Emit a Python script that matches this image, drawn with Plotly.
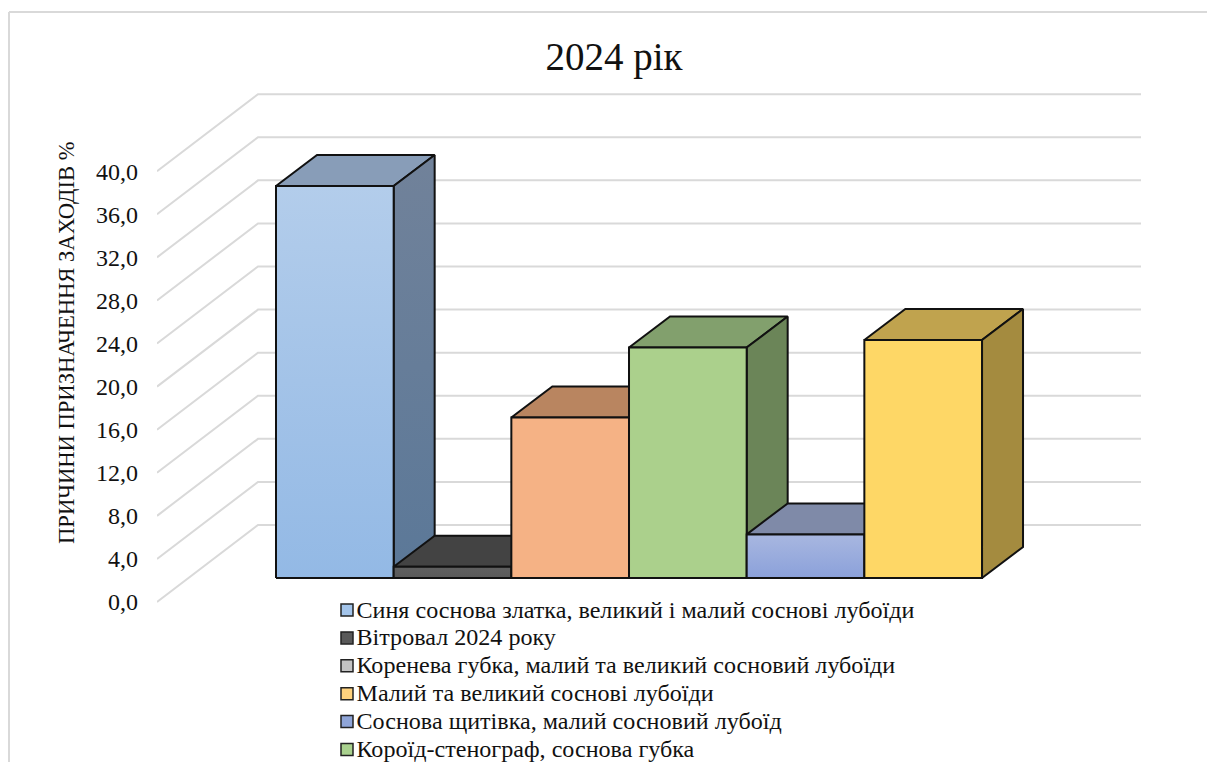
import plotly.graph_objects as go

# ---------- data ----------
categories = [
    "Синя соснова златка, великий і малий соснові лубоїди",
    "Вітровал 2024 року",
    "Коренева губка, малий та великий сосновий лубоїди",
    "Малий та великий соснові лубоїди",
    "Соснова щитівка, малий сосновий лубоїд",
    "Короїд-стенограф, соснова губка",
]
values = [36.4, 1.05, 14.9, 21.4, 4.05, 22.1]
tick_values = [0, 4, 8, 12, 16, 20, 24, 28, 32, 36, 40]
tick_labels = ["0,0", "4,0", "8,0", "12,0", "16,0", "20,0", "24,0", "28,0", "32,0", "36,0", "40,0"]
title_text = "2024 рік"
axis_title = "ПРИЧИНИ ПРИЗНАЧЕННЯ ЗАХОДІВ %"

# ---------- styles ----------
front_top = ["#b3cdeb", "#5f5f5f", "#f5b285", "#abd08c", "#a8b7e0", "#fed766"]
front_bottom = ["#93b9e5", "#5a5a5a", "#f5b285", "#abd08c", "#8ba1da", "#fed766"]
top_face = ["#889db8", "#434343", "#b98560", "#82a06d", "#7f8aa8", "#c0a34e"]
side_top = ["#71829a", "#3c3c3c", "#a0724f", "#6b8558", "#6b7896", "#a48b3f"]
side_bottom = ["#5b7898", "#3c3c3c", "#a0724f", "#6b8558", "#5f6f96", "#a48b3f"]
legend_colors = ["#a3c4ea", "#595959", "#c4c4c4", "#ffd27d", "#8fa5d8", "#a9d18e"]
FONT = "Liberation Serif"
INK = "#111111"
GRID = "#d9d9d9"

# ---------- layout geometry (pixels of the 1207x762 page) ----------
W, H = 1207, 762
PLOT_L = 157
Y0_PX, PX_PER_VAL = 602, 10.77
BAR_L_PX, BAR_W_PX = 276, 117.67
BAR_BASE_PX = 578
WALL_DX, WALL_DY, WALL_W = 101, 77, 883
BAR_DX, BAR_DY = 41, 31


def xu(px):
    return (px - BAR_L_PX) / BAR_W_PX


def yu(py):
    return (Y0_PX - py) / PX_PER_VAL


def xp(px):
    return (px - PLOT_L) / (W - PLOT_L)


def yp(py):
    return 1 - py / H


fig = go.Figure()

# gridlines: front edge -> back wall -> along the wall
dx_wall = WALL_DX / BAR_W_PX
dy_wall = WALL_DY / PX_PER_VAL
wall_left = xu(PLOT_L)
for v in tick_values:
    fig.add_trace(go.Scatter(
        x=[wall_left, wall_left + dx_wall, wall_left + dx_wall + WALL_W / BAR_W_PX],
        y=[v, v + dy_wall, v + dy_wall],
        mode="lines", line=dict(color=GRID, width=2),
        showlegend=False, hoverinfo="skip", cliponaxis=False))

# 3-D columns: top, side, front of each one
base = yu(BAR_BASE_PX)
dx = BAR_DX / BAR_W_PX
dy = BAR_DY / PX_PER_VAL
edge = dict(color=INK, width=2)


def face(xs, ys, name, color=None, gradient=None):
    kw = dict(fillgradient=dict(type="vertical", colorscale=gradient)) if gradient else dict(fillcolor=color)
    fig.add_trace(go.Scatter(x=xs + xs[:1], y=ys + ys[:1], mode="lines", fill="toself",
                             line=edge, name=name, showlegend=False, hoverinfo="name",
                             cliponaxis=False, **kw))


for i, (cat, val) in enumerate(zip(categories, values)):
    top = base + val
    face([i, i + 1, i + 1 + dx, i + dx], [top, top, top + dy, top + dy], cat, color=top_face[i])
    face([i + 1, i + 1 + dx, i + 1 + dx, i + 1], [base, base + dy, top + dy, top], cat,
         gradient=[[0, side_bottom[i]], [1, side_top[i]]])
    face([i, i + 1, i + 1, i], [base, base, top, top], cat,
         gradient=[[0, front_bottom[i]], [1, front_top[i]]])

# legend, one row per category: swatches and labels
LEG_X, LEG_TEXT_X, LEG_Y0, LEG_TEXT_DY, LEG_STEP = 347, 356.5, 610, 1.5, 27.9
rows = range(len(categories))
fig.add_trace(go.Scatter(
    x=[xu(LEG_X)] * len(categories),
    y=[yu(LEG_Y0 + k * LEG_STEP) for k in rows],
    mode="markers",
    marker=dict(symbol="square", size=12, color=legend_colors, line=dict(color="#222222", width=1.5)),
    showlegend=False, hoverinfo="skip", cliponaxis=False))
fig.add_trace(go.Scatter(
    x=[xu(LEG_TEXT_X)] * len(categories),
    y=[yu(LEG_Y0 + LEG_TEXT_DY + k * LEG_STEP) for k in rows],
    mode="text", text=categories, textposition="middle right",
    textfont=dict(family=FONT, size=24.1, color=INK),
    showlegend=False, hoverinfo="skip", cliponaxis=False))

fig.update_layout(
    width=W, height=H,
    margin=dict(l=PLOT_L, r=0, t=0, b=0),
    paper_bgcolor="white", plot_bgcolor="white",
    showlegend=False,
    font=dict(family=FONT, color=INK),
    title=dict(text=title_text, x=614 / W, xref="container", xanchor="center",
               y=1 - 56 / H, yref="container", yanchor="middle",
               font=dict(family=FONT, size=39, color=INK)),
    xaxis=dict(visible=False, range=[xu(PLOT_L), xu(W)], fixedrange=True),
    yaxis=dict(range=[yu(H), yu(0)], tickmode="array", tickvals=tick_values, ticktext=tick_labels,
               tickfont=dict(family=FONT, size=24, color=INK), ticks="", showgrid=False,
               zeroline=False, showline=False, ticklabelstandoff=18, fixedrange=True),
    annotations=[dict(text=axis_title, textangle=-90, xref="paper", yref="paper",
                      x=xp(66), y=yp(343), showarrow=False, xanchor="center", yanchor="middle",
                      font=dict(family=FONT, size=22.6, color=INK))],
    shapes=[
        dict(type="line", xref="paper", yref="paper", x0=xp(9), x1=xp(W), y0=yp(12), y1=yp(12),
             line=dict(color=GRID, width=2)),
        dict(type="line", xref="paper", yref="paper", x0=xp(9), x1=xp(9), y0=yp(12), y1=yp(H),
             line=dict(color=GRID, width=2)),
    ],
)

fig.write_html("out.html", config=dict(displayModeBar=False),
               post_script="document.body.style.margin='0';document.documentElement.style.overflow='hidden';")
